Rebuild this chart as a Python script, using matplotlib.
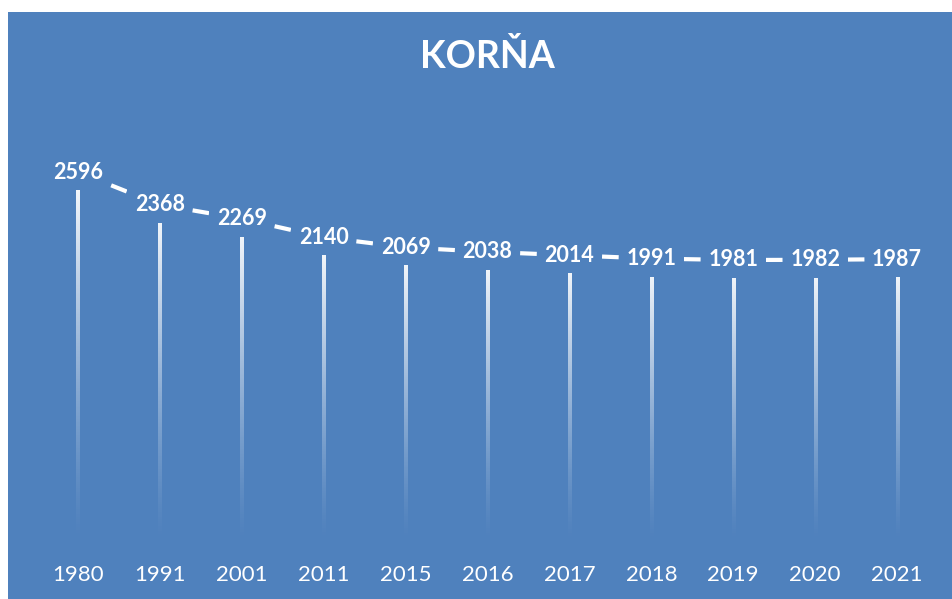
import matplotlib.pyplot as plt
import numpy as np
from matplotlib.patches import Rectangle

# data
years  = ["1980", "1991", "2001", "2011", "2015", "2016", "2017", "2018", "2019", "2020", "2021"]
values = [2596, 2368, 2269, 2140, 2069, 2038, 2014, 1991, 1981, 1982, 1987]
title  = "KORŇA"

BG   = "#4F81BD"
FONT = ["Lato", "DejaVu Sans"]
LW   = 3

fig = plt.figure(figsize=(9.52, 5.99), dpi=100)
fig.patch.set_facecolor("white")
fig.patches.append(Rectangle((8 / 952, 0), 1 - 8 / 952, 1 - 12 / 599,
                             transform=fig.transFigure, facecolor=BG,
                             edgecolor="none", zorder=-10))

ax = fig.add_axes([37 / 952, 56 / 599, 901 / 952, 428.6 / 599])
ax.set_facecolor("none")
ax.set_zorder(5)
x = np.arange(len(years))
ax.set_xlim(-0.5, len(years) - 0.5)
ax.set_ylim(0, 3000)

# drop lines: white fading out towards the bottom
half_w = 1.5 / 81.9   # ~3 px wide in data units
grad = np.ones((256, 1, 4))
grad[:, 0, 3] = np.linspace(0, 1, 256) ** 1.3
for xi, v in zip(x, values):
    ax.imshow(grad, extent=(xi - half_w, xi + half_w, 0, v), origin="lower",
              aspect="auto", interpolation="bilinear", zorder=2)

# dashed line, one segment per gap so a dash sits in the middle of each gap
pts = ax.transData.transform(np.column_stack([x, values]))
for i in range(len(x) - 1):
    seg_px = np.hypot(*(pts[i + 1] - pts[i]))
    seg_u = seg_px * 72 / fig.dpi / LW          # length in linewidth units
    offset = (-(seg_u / 2 - 2)) % 7
    ax.plot(x[i:i + 2], values[i:i + 2], color="white", linewidth=LW,
            linestyle=(offset, (4, 3)), dash_capstyle="butt", zorder=3)

for xi, v in zip(x, values):
    ax.text(xi, v, str(v), ha="center", va="center", color="white",
            fontsize=15.5, fontweight="bold", family=FONT, zorder=4,
            bbox=dict(boxstyle="square,pad=0.35", facecolor=BG, edgecolor="none"))

ax.set_xticks(x)
ax.set_xticklabels(years, color="white", fontsize=16, family=FONT)
ax.tick_params(axis="x", length=0, pad=16)
ax.set_yticks([])
for s in ax.spines.values():
    s.set_visible(False)

fig.text(487 / 952, 1 - 57 / 599, title, ha="center", va="center", color="white",
         fontsize=27, fontweight="bold", family=FONT)

fig.savefig("out.png", dpi=100)
